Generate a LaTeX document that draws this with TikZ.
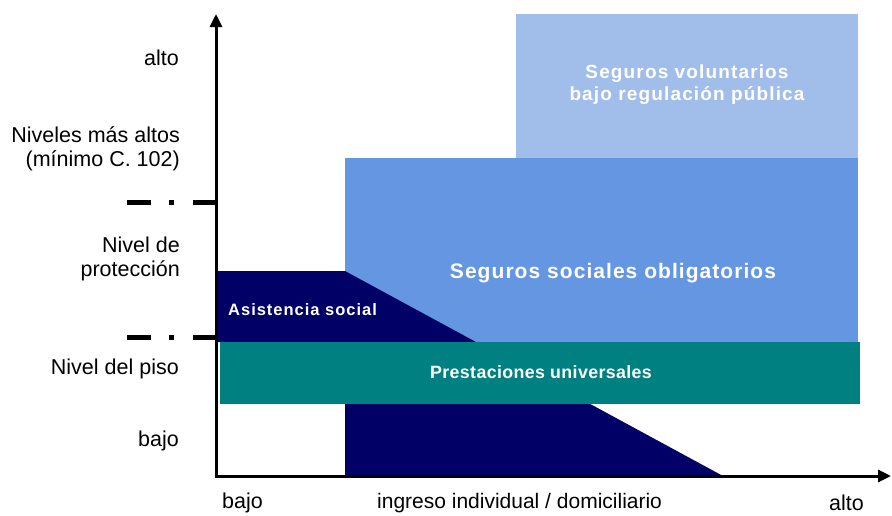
\documentclass[tikz,border=0pt]{standalone}
\usepackage{fontspec}
\setmainfont{Liberation Sans}
\usetikzlibrary{arrows.meta}
\definecolor{voluntary}{RGB}{161,189,234}
\definecolor{mandatory}{RGB}{100,150,226}
\definecolor{navyc}{RGB}{0,0,102}
\definecolor{tealc}{RGB}{0,128,128}
\begin{document}
\begin{tikzpicture}[x=1pt,y=-1pt,
  lab/.style={font=\fontsize{21.5}{24}\selectfont, inner sep=0pt, align=right, anchor=east},
  blab/.style={font=\fontsize{16.5}{22}\selectfont\bfseries\addfontfeatures{LetterSpace=6}, text=white, inner sep=0pt, align=center},
  axisline/.style={line width=3pt, {Triangle[length=13pt,width=12pt]}-{Triangle[length=13pt,width=12pt]}},
  levelmark/.style={line width=5pt, dash pattern=on 24pt off 18pt on 5pt off 19pt}]
\useasboundingbox (0,0) rectangle (892,515);
% regions
\fill[voluntary] (516,14) rectangle (858,158);
\fill[mandatory] (345,158) rectangle (858,342);
\fill[navyc] (216,271) -- (345,271) -- (723,476) -- (345,476) -- (345,342) -- (216,342) -- cycle;
\fill[tealc] (220,342) rectangle (860,404);
% region labels
\node[blab, font=\fontsize{19}{22}\selectfont\bfseries\addfontfeatures{LetterSpace=6}] (vol) at (687,85) {Seguros voluntarios\\bajo regulación pública};
\node[blab, font=\fontsize{21}{22}\selectfont\bfseries\addfontfeatures{LetterSpace=5}] (soc) at (613,273) {Seguros sociales obligatorios};
\node[blab, anchor=west] (asis) at (228,310) {Asistencia social};
\node[blab, font=\fontsize{17.8}{22}\selectfont\bfseries\addfontfeatures{LetterSpace=2}] (prest) at (541,372) {Prestaciones universales};
% axes
\coordinate (ytop) at (216,14);
\coordinate (origin) at (216,476);
\coordinate (xend) at (891,476);
\draw[axisline] (ytop) -- (origin) -- (xend);
% level marks
\coordinate (m1a) at (127,202); \coordinate (m1b) at (216,202);
\coordinate (m2a) at (127,337); \coordinate (m2b) at (216,337);
\draw[levelmark] (m1a) -- (m1b);
\draw[levelmark] (m2a) -- (m2b);
% left labels
\node[lab] (lalto) at (179,58) {alto};
\node[lab] (lniv) at (180,148.5) {Niveles más altos\\(mínimo C. 102)};
\node[lab] (lprot) at (180,258.5) {Nivel de\\protección};
\node[lab] (lpiso) at (179,369) {Nivel del piso};
\node[lab] (lbajo) at (179,441) {bajo};
% bottom labels
\node[lab, anchor=west] (bbajo) at (222,503) {bajo};
\node[lab, anchor=west, font=\fontsize{21}{24}\selectfont] (bing) at (377,503) {ingreso individual / domiciliario};
\node[lab, anchor=west] (balto) at (829,503) {alto};
\end{tikzpicture}
\end{document}
